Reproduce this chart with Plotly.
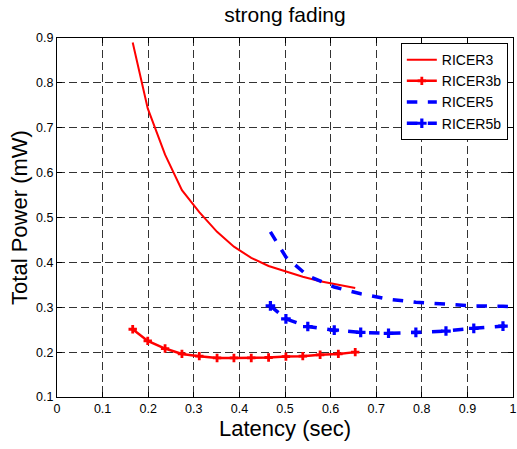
import plotly.graph_objects as go

# Data
x3 = [0.166, 0.199, 0.237, 0.274, 0.312, 0.351, 0.388, 0.426, 0.464, 0.502, 0.539, 0.577, 0.617, 0.654]
ricer3 = [0.890, 0.743, 0.640, 0.561, 0.512, 0.468, 0.435, 0.410, 0.392, 0.380, 0.368, 0.358, 0.350, 0.343]
ricer3b = [0.251, 0.225, 0.208, 0.196, 0.191, 0.187, 0.187, 0.187, 0.188, 0.190, 0.191, 0.194, 0.196, 0.200]

x5 = [0.468, 0.502, 0.550, 0.608, 0.666, 0.727, 0.787, 0.853, 0.914, 0.978, 1.040]
ricer5 = [0.468, 0.412, 0.370, 0.345, 0.330, 0.318, 0.311, 0.306, 0.303, 0.302, 0.301]
ricer5b = [0.303, 0.274, 0.257, 0.249, 0.244, 0.242, 0.244, 0.247, 0.253, 0.258, 0.263]

x_ticks = [0, 0.1, 0.2, 0.3, 0.4, 0.5, 0.6, 0.7, 0.8, 0.9, 1]
y_ticks = [0.1, 0.2, 0.3, 0.4, 0.5, 0.6, 0.7, 0.8, 0.9]

FONT = "Liberation Sans, Arial, Helvetica, sans-serif"

fig = go.Figure()
fig.add_trace(go.Scatter(x=x3, y=ricer3, mode="lines", name="RICER3",
                         line=dict(color="#ff0000", width=2)))
fig.add_trace(go.Scatter(x=x3, y=ricer3b, mode="lines+markers", name="RICER3b",
                         line=dict(color="#ff0000", width=2.5),
                         marker=dict(symbol="cross", size=7, color="#ff0000")))
fig.add_trace(go.Scatter(x=x5, y=ricer5, mode="lines", name="RICER5",
                         line=dict(color="#0000ff", width=3.5, dash="dash")))
fig.add_trace(go.Scatter(x=x5, y=ricer5b, mode="lines+markers", name="RICER5b",
                         line=dict(color="#0000ff", width=3.5, dash="dash"),
                         marker=dict(symbol="cross", size=8, color="#0000ff")))

axis_common = dict(
    showline=True, linecolor="black", linewidth=1, mirror="ticks",
    ticks="inside", ticklen=5, tickcolor="black",
    showgrid=True, gridcolor="#333333", griddash="8px,4px", gridwidth=1,
    zeroline=False, tickfont=dict(family=FONT, size=12.5, color="black"),
    ticklabeloverflow="allow", automargin=False,
)

fig.update_layout(
    width=517, height=449,
    margin=dict(l=57, r=4, t=38, b=52, autoexpand=False),
    paper_bgcolor="white", plot_bgcolor="white",
    title=dict(text="strong fading", x=(57 + 456 / 2) / 517, xanchor="center",
               y=1 - 15 / 449, yanchor="middle",
               font=dict(family=FONT, size=21, color="black")),
    xaxis=dict(range=[0, 1], tickvals=x_ticks, ticktext=[f"{v:g}" for v in x_ticks],
               title=dict(text="Latency (sec)", font=dict(family=FONT, size=22, color="black"),
                          standoff=0),
               **axis_common),
    yaxis=dict(range=[0.1, 0.9], tickvals=y_ticks, ticktext=[f"{v:g}" for v in y_ticks],
               title=dict(text="Total Power (mW)", font=dict(family=FONT, size=22, color="black"),
                          standoff=2),
               **axis_common),
    legend=dict(x=0.754, y=0.986, xanchor="left", yanchor="top",
                bordercolor="black", borderwidth=1, bgcolor="white",
                font=dict(family=FONT, size=14, color="black"),
                tracegroupgap=0, itemwidth=30),
    showlegend=True,
)

fig.write_html("out.html")
